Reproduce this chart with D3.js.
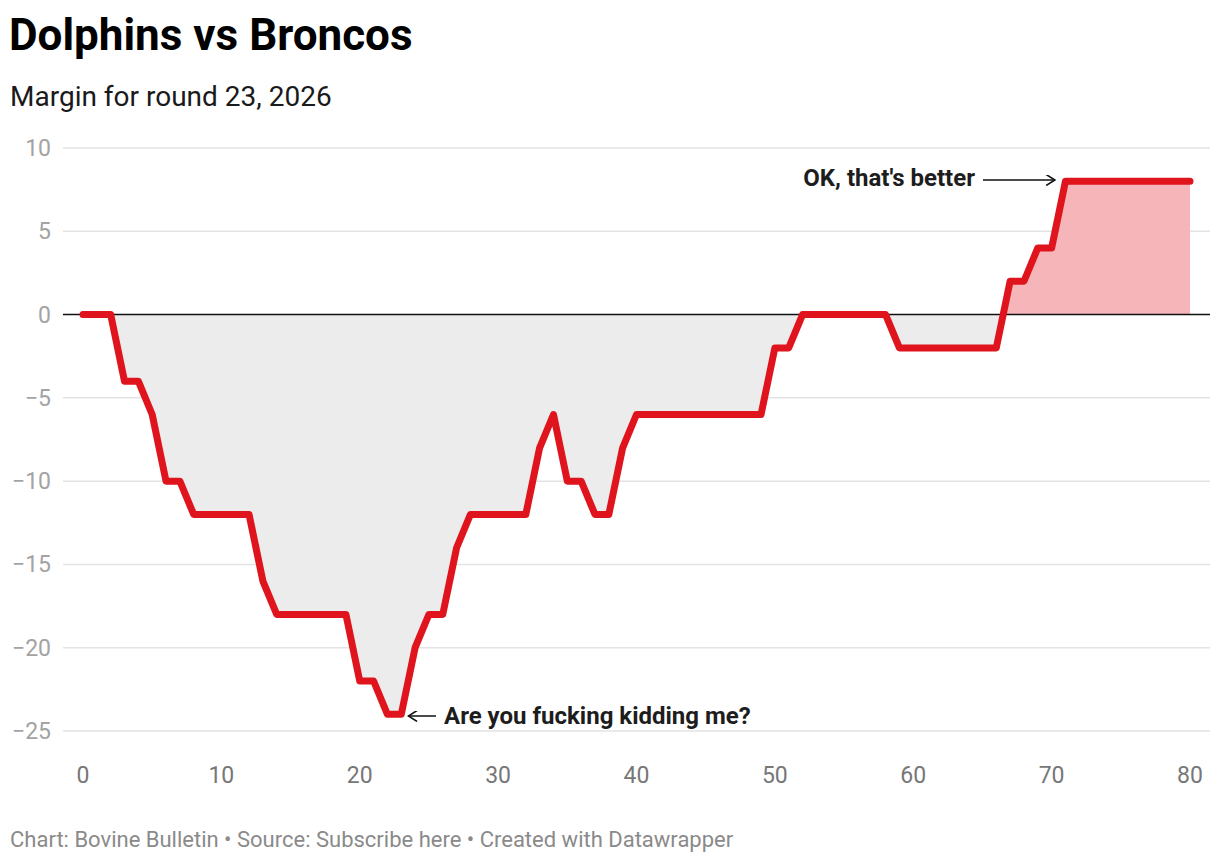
<!DOCTYPE html>
<html><head><meta charset="utf-8">
<script src="https://cdn.jsdelivr.net/npm/d3@7"></script>
<style>
body{margin:0;background:#fff;font-family:Roboto,"Noto Sans",sans-serif;}
</style></head>
<body><svg id="c" width="1220" height="864"></svg>
<script>
const minutes = [0,2,3,4,5,6,7,8,12,13,14,19,20,21,22,23,24,25,26,27,28,32,33,34,35,36,37,38,39,40,49,50,51,52,58,59,66,67,68,69,70,71,80];
const margins = [0,0,-4,-4,-6,-10,-10,-12,-12,-16,-18,-18,-22,-22,-24,-24,-20,-18,-18,-14,-12,-12,-8,-6,-10,-10,-12,-12,-8,-6,-6,-2,-2,0,0,-2,-2,2,2,4,4,8,8];
const yTicks = [10,5,0,-5,-10,-15,-20,-25];
const xTicks = [0,10,20,30,40,50,60,70,80];
const data = minutes.map((m,i)=>({x:m,y:margins[i]}));

const svg = d3.select("#c");
const x = d3.scaleLinear().domain([0,80]).range([83,1190]);
const y = d3.scaleLinear().domain([-25,10]).range([731,148]);

svg.append("text").attr("x",9).attr("y",50).attr("font-size",44).attr("font-weight",700).attr("fill","#000").text("Dolphins vs Broncos");
svg.append("text").attr("x",10).attr("y",106).attr("font-size",28).attr("fill","#1a1a1a").text("Margin for round 23, 2026");

// grid
const g = svg.append("g");
g.selectAll("line.grid").data(yTicks.filter(d=>d!==0)).join("line")
 .attr("x1",63).attr("x2",1210).attr("y1",d=>y(d)).attr("y2",d=>y(d))
 .attr("stroke","#e3e3e3").attr("stroke-width",1.5);
g.selectAll("text.yl").data(yTicks).join("text")
 .attr("x",51).attr("y",d=>y(d)+8).attr("text-anchor","end")
 .attr("font-size",23).attr("fill","#a3a3a3")
 .text(d=>d<0?"\u2212"+Math.abs(d):d);
g.selectAll("text.xl").data(xTicks).join("text")
 .attr("x",d=>x(d)).attr("y",783).attr("text-anchor","middle")
 .attr("font-size",23).attr("fill","#777")
 .text(d=>d);

// clips
const defs = svg.append("defs");
defs.append("clipPath").attr("id","pos").append("rect").attr("x",0).attr("y",0).attr("width",1220).attr("height",y(0));
defs.append("clipPath").attr("id","neg").append("rect").attr("x",0).attr("y",y(0)).attr("width",1220).attr("height",864);

const area = d3.area().x(d=>x(d.x)).y0(y(0)).y1(d=>y(d.y));
svg.append("path").datum(data).attr("d",area).attr("fill","#ececec").attr("clip-path","url(#neg)");
svg.append("path").datum(data).attr("d",area).attr("fill","#f6b6b9").attr("clip-path","url(#pos)");

svg.append("line").attr("x1",63).attr("x2",1210).attr("y1",y(0)).attr("y2",y(0)).attr("stroke","#111").attr("stroke-width",1.6);

const line = d3.line().x(d=>x(d.x)).y(d=>y(d.y));
svg.append("path").datum(data).attr("d",line).attr("fill","none")
 .attr("stroke","#e0141c").attr("stroke-width",7).attr("stroke-linejoin","round").attr("stroke-linecap","round");

// annotations
defs.append("marker").attr("id","ah").attr("viewBox","0 0 10 10").attr("refX",9).attr("refY",5)
 .attr("markerWidth",11).attr("markerHeight",11).attr("markerUnits","userSpaceOnUse").attr("orient","auto")
 .append("path").attr("d","M1,0 L9,5 L1,10").attr("fill","none").attr("stroke","#111").attr("stroke-width",1.4);

svg.append("line").attr("x1",436).attr("y1",716).attr("x2",x(23)+7).attr("y2",716)
 .attr("stroke","#111").attr("stroke-width",1.5).attr("marker-end","url(#ah)");
svg.append("text").attr("x",444).attr("y",724).attr("font-size",24).attr("font-weight",700).attr("fill","#1d1d1d").text("Are you fucking kidding me?");

svg.append("line").attr("x1",983).attr("y1",180).attr("x2",1055).attr("y2",180)
 .attr("stroke","#111").attr("stroke-width",1.5).attr("marker-end","url(#ah)");
svg.append("text").attr("x",975).attr("y",186).attr("text-anchor","end").attr("font-size",24).attr("font-weight",700).attr("fill","#1d1d1d").text("OK, that's better");

svg.append("text").attr("x",10).attr("y",847).attr("font-size",22).attr("fill","#8a8a8a")
 .text("Chart: Bovine Bulletin \u2022 Source: Subscribe here \u2022 Created with Datawrapper");
</script></body></html>
